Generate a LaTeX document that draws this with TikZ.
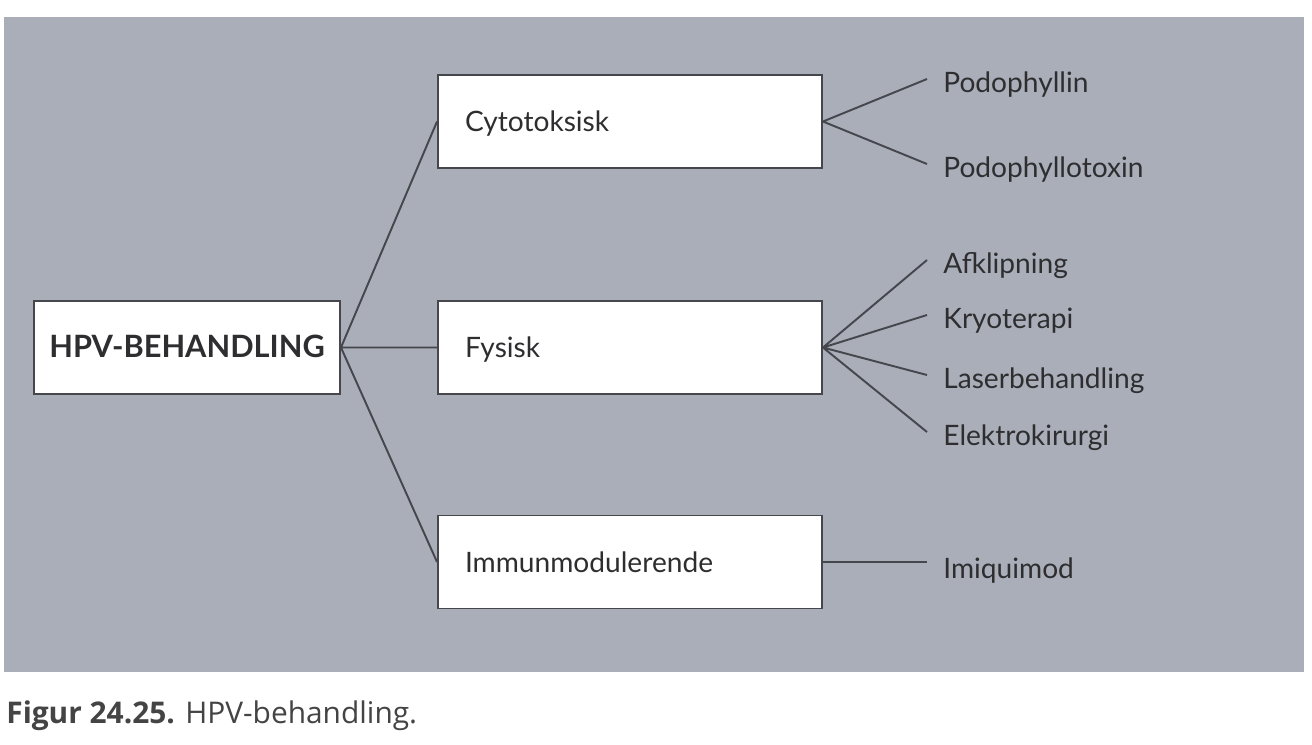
\documentclass[tikz,border=0pt]{standalone}
\usepackage{fontspec}
\setmainfont{Lato}
\newfontfamily\capfont{Open Sans}
\usetikzlibrary{positioning}
\definecolor{panelgray}{HTML}{A9AEB9}
\definecolor{inkgray}{HTML}{2E2E30}
\definecolor{linegray}{HTML}{45474D}
\definecolor{capgray}{HTML}{444444}
\tikzstyle{box}=[draw=linegray,line width=1.1pt,fill=white,minimum height=1.86cm,
  text=inkgray,font=\fontsize{16}{19}\selectfont,text height=0.40cm,text depth=0pt]
\tikzstyle{rootbox}=[box,minimum width=6.12cm,font=\fontsize{17.5}{20}\selectfont\bfseries]
\tikzstyle{catbox}=[box,inner xsep=0.54cm,text width=6.6cm,align=left]
\tikzstyle{leaf}=[anchor=base west,inner xsep=0.32cm,inner ysep=0pt,text height=0.52cm,
  text depth=0pt,text=inkgray,font=\fontsize{16}{19}\selectfont]
\tikzstyle{link}=[draw=linegray,line width=1.1pt]

\begin{document}
\begin{tikzpicture}[on grid, node distance=4.5cm]
  \useasboundingbox (0,0) rectangle (26.24,-14.88);
  \fill[panelgray] (0.08,-0.34) rectangle (26.08,-13.44);

  \node[rootbox]                   (hpv)  at (3.74,-6.95) {HPV-BEHANDLING};
  \node[catbox, right=8.86cm of hpv] (fys)  {Fysisk};
  \node[catbox, above=4.52cm of fys] (cyto) {Cytotoksisk};
  \node[catbox, below=4.29cm of fys] (imm)  {Immunmodulerende};

  \node[leaf] (podo)  at (18.54,-1.84)  {Podophyllin};
  \node[leaf] (podox) at (18.54,-3.54)  {Podophyllotoxin};
  \node[leaf] (afkl)  at (18.54,-5.46)  {Afklipning};
  \node[leaf] (kryo)  at (18.54,-6.56)  {Kryoterapi};
  \node[leaf] (laser) at (18.54,-7.76)  {Laserbehandling};
  \node[leaf] (elek)  at (18.54,-8.90)  {Elektrokirurgi};
  \node[leaf] (imiq)  at (18.54,-11.56) {Imiquimod};

  \draw[link] (hpv.east) -- (cyto.west) (hpv.east) -- (fys.west) (hpv.east) -- (imm.west);
  \draw[link] (cyto.east) -- (podo.west) (cyto.east) -- (podox.west);
  \draw[link] (fys.east) -- (afkl.west) (fys.east) -- (kryo.west)
              (fys.east) -- (laser.west) (fys.east) -- (elek.west);
  \draw[link] (imm.east) -- (imm.east -| imiq.west);

  \node[anchor=base west, inner sep=0pt, text=capgray, font=\capfont\fontsize{17}{20}\selectfont]
    (caption) at (0.12,-14.46) {\textbf{Figur 24.25.} HPV-behandling.};
\end{tikzpicture}
\end{document}
